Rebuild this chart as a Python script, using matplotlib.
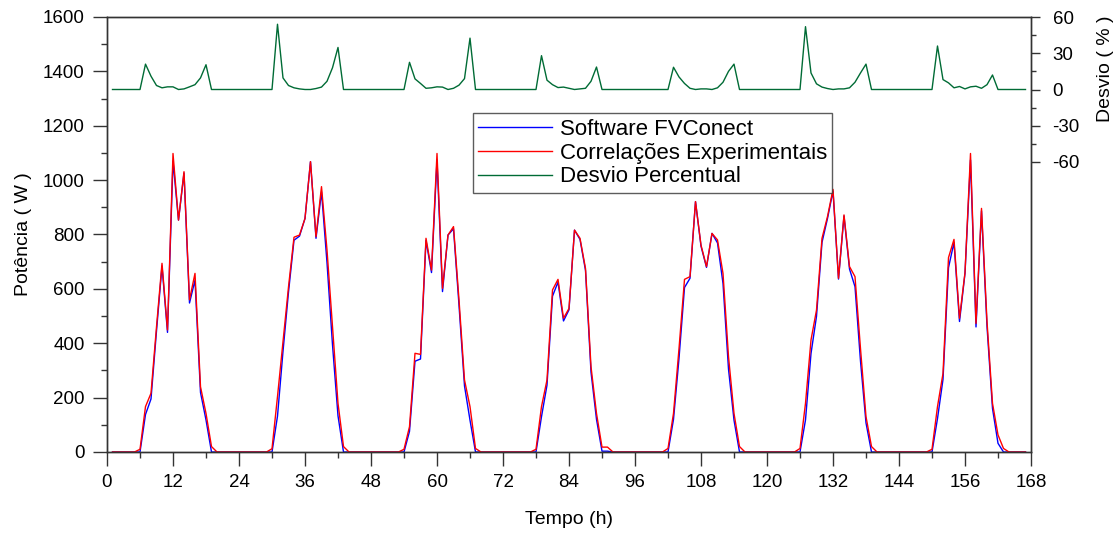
import matplotlib
matplotlib.use("Agg")
import matplotlib.pyplot as plt
from matplotlib.ticker import MultipleLocator, FixedLocator

plt.rcParams['font.family'] = ['Liberation Sans', 'DejaVu Sans']
plt.rcParams['axes.unicode_minus'] = False

hours = list(range(1, 168))

# potencia (W) hora a hora, dia a dia (24 h cada)
fvconect = (
    [0, 0, 0, 0, 0, 0, 138, 195, 445, 684, 440, 1070, 853, 1026, 548, 632, 219, 118, 0, 0, 0, 0, 0, 0]
    + [0, 0, 0, 0, 0, 0, 132, 370, 588, 779, 794, 859, 1068, 786, 957, 696, 394, 133, 0, 0, 0, 0, 0, 0]
    + [0, 0, 0, 0, 0, 0, 76, 334, 342, 778, 660, 1074, 590, 798, 821, 540, 243, 117, 0, 0, 0, 0, 0, 0]
    + [0, 0, 0, 0, 0, 0, 130, 246, 573, 625, 482, 523, 816, 782, 668, 294, 120, 3, 3, 0, 0, 0, 0, 0]
    + [0, 0, 0, 0, 0, 0, 120, 344, 605, 639, 921, 757, 679, 804, 769, 620, 305, 117, 0, 0, 0, 0, 0, 0]
    + [0, 0, 0, 0, 0, 0, 118, 362, 499, 771, 859, 960, 636, 868, 673, 608, 334, 107, 0, 0, 0, 0, 0, 0]
    + [0, 0, 0, 0, 0, 0, 123, 267, 678, 771, 480, 657, 1074, 460, 887, 462, 160, 32, 0, 0, 0, 0, 0]
)
correlacoes = (
    [0, 0, 0, 0, 0, 10, 167, 216, 460, 694, 449, 1098, 853, 1031, 560, 657, 240, 142, 20, 0, 0, 0, 0, 0]
    + [0, 0, 0, 0, 0, 12, 204, 406, 607, 790, 798, 859, 1068, 792, 976, 743, 461, 179, 20, 0, 0, 0, 0, 0]
    + [0, 0, 0, 0, 0, 10, 93, 363, 359, 786, 669, 1098, 602, 798, 829, 560, 265, 167, 13, 0, 0, 0, 0, 0]
    + [0, 0, 0, 0, 0, 10, 167, 265, 596, 635, 492, 528, 816, 786, 675, 314, 142, 18, 18, 0, 0, 0, 0, 0]
    + [0, 0, 0, 0, 0, 13, 142, 380, 635, 645, 921, 761, 682, 804, 780, 657, 351, 142, 20, 0, 0, 0, 0, 0]
    + [0, 0, 0, 0, 0, 13, 179, 412, 522, 786, 866, 966, 639, 872, 682, 645, 380, 130, 20, 0, 0, 0, 0, 0]
    + [0, 0, 0, 0, 0, 10, 167, 289, 715, 782, 492, 660, 1098, 473, 896, 480, 179, 63, 13, 0, 0, 0, 0]
)
# desvio percentual (%)
desvio = (
    [0, 0, 0, 0, 0, 0, 21, 11, 3.3, 1.4, 2.2, 2.2, 0, 0.5, 2.2, 4, 9.6, 20.5, 0, 0, 0, 0, 0, 0]
    + [0, 0, 0, 0, 0, 0, 54, 9.6, 3.3, 1.4, 0.5, 0, 0, 0.8, 2, 6.8, 18, 34.8, 0, 0, 0, 0, 0, 0]
    + [0, 0, 0, 0, 0, 0, 22.5, 8.8, 5, 1, 1.4, 2.2, 2, 0, 1, 3.6, 9, 42.5, 0, 0, 0, 0, 0, 0]
    + [0, 0, 0, 0, 0, 0, 28, 7.7, 4, 1.6, 2, 1, 0, 0.5, 1, 6.8, 18.6, 0, 0, 0, 0, 0, 0, 0]
    + [0, 0, 0, 0, 0, 0, 18.4, 10.4, 5, 1, 0, 0.5, 0.5, 0, 1.4, 6, 15, 21, 0, 0, 0, 0, 0, 0]
    + [0, 0, 0, 0, 0, 0, 52, 13.7, 4.7, 2, 0.8, 0, 0.5, 0.5, 1.4, 6, 13.7, 21, 0, 0, 0, 0, 0, 0]
    + [0, 0, 0, 0, 0, 0, 36, 8.2, 5.5, 1.4, 2.5, 0.5, 2.2, 2.7, 1, 4, 12, 0, 0, 0, 0, 0, 0]
)

fig = plt.figure(figsize=(11.16, 5.39), dpi=100)
ax = fig.add_axes([107 / 1116, 1 - 452 / 539, 924 / 1116, 435 / 539])
ax2 = ax.twinx()

l1, = ax.plot(hours, fvconect, color='#0000ff', lw=1, label='Software FVConect')
l2, = ax.plot(hours, correlacoes, color='#ff0000', lw=1, label='Correlações Experimentais')
l3, = ax2.plot(hours, desvio, color='#006b35', lw=1, label='Desvio Percentual')

ax.set_xlim(0, 168)
ax.set_ylim(0, 1600)
ax2.set_ylim(-300, 60)

ax.xaxis.set_major_locator(MultipleLocator(12))
ax.xaxis.set_minor_locator(MultipleLocator(6))
ax.yaxis.set_major_locator(MultipleLocator(200))
ax.yaxis.set_minor_locator(MultipleLocator(100))
ax2.yaxis.set_major_locator(FixedLocator([-60, -30, 0, 30, 60]))
ax2.yaxis.set_minor_locator(FixedLocator([-45, -15, 15, 45]))

ax.tick_params(which='major', length=10, width=1, labelsize=13.5, pad=6, color='#333333')
ax.tick_params(which='minor', length=4.5, width=1, color='#333333')
ax.tick_params(axis='y', pad=6)
ax2.tick_params(which='major', length=6.5, width=1, labelsize=13.5, pad=9, color='#333333')
ax2.tick_params(which='minor', length=3.5, width=1, color='#333333')

for a in (ax, ax2):
    for s in a.spines.values():
        s.set_color('#333333')
        s.set_linewidth(1)

ax.set_xlabel('Tempo (h)', fontsize=14, labelpad=14)
ax.set_ylabel('Potência ( W )', fontsize=14, labelpad=8)
ax2.set_ylabel('Desvio ( % )', fontsize=14)
ax2.yaxis.set_label_coords(1.071, 0.88)

leg = ax2.legend(handles=[l1, l2, l3], loc='upper left', bbox_to_anchor=(0.396, 0.779),
                 borderaxespad=0, fontsize=16, frameon=True, fancybox=False,
                 handlelength=3.3, labelspacing=0.13, borderpad=0.25, handletextpad=0.35)
leg.get_frame().set_edgecolor('#333333')
leg.get_frame().set_linewidth(1)

fig.savefig('out.png', dpi=100)
